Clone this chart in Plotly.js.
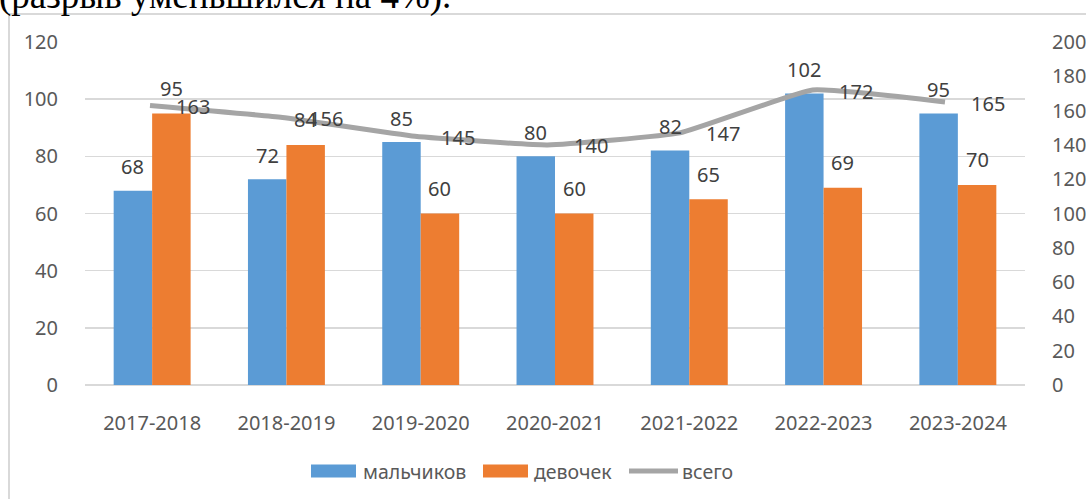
<!DOCTYPE html>
<html>
<head>
<meta charset="utf-8">
<script src="https://cdn.plot.ly/plotly-3.0.1.min.js"></script>
<style>html,body{margin:0;padding:0;background:#fff;}#chart{width:1086px;height:499px;}</style>
</head>
<body>
<div id="chart"></div>
<script>
// ---- data ----
const categories = ["2017-2018", "2018-2019", "2019-2020", "2020-2021", "2021-2022", "2022-2023", "2023-2024"];
const boys = [68, 72, 85, 80, 82, 102, 95];
const girls = [95, 84, 60, 60, 65, 69, 70];
const total = [163, 156, 145, 140, 147, 172, 165];
const seriesNames = ["мальчиков", "девочек", "всего"];
const leftTicks = [0, 20, 40, 60, 80, 100, 120];
const rightTicks = [0, 20, 40, 60, 80, 100, 120, 140, 160, 180, 200];
const noteText = "(разрыв уменьшился на 4%).";

// ---- styling ----
const FONT = "Noto Sans, Open Sans, sans-serif";
const TICK = "#595959";
const LABEL = "#404040";
const colors = ["#5B9BD5", "#ED7D31", "#A5A5A5"];
const W = 1086, H = 499;
const M = {l: 85, r: 61, t: 42, b: 114};
const PW = W - M.l - M.r, PH = H - M.t - M.b;
const px = x => (x - M.l) / PW;
const py = y => (H - M.b - y) / PH;
const bargap = 0.427;
const off = (1 - bargap) / 4;

const traces = [
  {type: "bar", name: seriesNames[0], x: categories, y: boys, marker: {color: colors[0]}, showlegend: false, hoverinfo: "skip"},
  {type: "bar", name: seriesNames[1], x: categories, y: girls, marker: {color: colors[1]}, showlegend: false, hoverinfo: "skip"},
  {type: "scatter", mode: "lines", name: seriesNames[2], x: categories, y: total, xaxis: "x2", yaxis: "y2",
   line: {color: colors[2], width: 5, shape: "spline", smoothing: 0.35}, showlegend: false, hoverinfo: "skip"}
];

const annotations = [];
categories.forEach((c, i) => {
  annotations.push({xref: "x", yref: "y", x: i - off, y: boys[i], text: String(boys[i]), showarrow: false,
    yanchor: "middle", xanchor: "center", yshift: 24, font: {family: FONT, size: 20, color: LABEL}});
  annotations.push({xref: "x", yref: "y", x: i + off, y: girls[i], text: String(girls[i]), showarrow: false,
    yanchor: "middle", xanchor: "center", yshift: 25, font: {family: FONT, size: 20, color: LABEL}});
  annotations.push({xref: "x2", yref: "y2", x: i, y: total[i], text: String(total[i]), showarrow: false,
    yanchor: "middle", xanchor: "center", xshift: 43, yshift: -1, font: {family: FONT, size: 20, color: LABEL}});
});

// top document text (cropped in the reference)
annotations.push({xref: "paper", yref: "paper", x: px(-3), y: py(19), xanchor: "left", yanchor: "bottom",
  text: noteText, showarrow: false, font: {family: "Liberation Serif, Times New Roman, serif", size: 37, color: "#000"}});

// custom legend
const legendItems = [
  {x0: 311, x1: 356, tx: 361, kind: "rect"},
  {x0: 483, x1: 528, tx: 532, kind: "rect"},
  {x0: 629, x1: 678, tx: 680, kind: "line"}
];
const shapes = [];
const LY = 471;
legendItems.forEach((it, k) => {
  if (it.kind === "rect") {
    shapes.push({type: "rect", xref: "paper", yref: "paper", x0: px(it.x0), x1: px(it.x1), y0: py(LY - 6.5), y1: py(LY + 6.5),
      fillcolor: colors[k], line: {width: 0}});
  } else {
    shapes.push({type: "line", xref: "paper", yref: "paper", x0: px(it.x0), x1: px(it.x1), y0: py(LY), y1: py(LY),
      line: {color: colors[k], width: 5}});
  }
  annotations.push({xref: "paper", yref: "paper", x: px(it.tx), y: py(LY), xanchor: "left", yanchor: "middle",
    text: seriesNames[k], showarrow: false, font: {family: FONT, size: 19.5, color: TICK}});
});

// chart border (top and left edges visible)
shapes.push({type: "line", xref: "paper", yref: "paper", x0: px(9), x1: px(1090), y0: py(14), y1: py(14), line: {color: "#D9D9D9", width: 2}});
shapes.push({type: "line", xref: "paper", yref: "paper", x0: px(9), x1: px(9), y0: py(14), y1: py(505), line: {color: "#D9D9D9", width: 2}});

const layout = {
  width: W, height: H, margin: M,
  paper_bgcolor: "#fff", plot_bgcolor: "#fff",
  barmode: "group", bargap: bargap, bargroupgap: 0,
  showlegend: false,
  font: {family: FONT, color: TICK},
  xaxis: {type: "category", range: [-0.5, 6.5], showgrid: false, zeroline: false, showline: false,
    ticks: "outside", ticklen: 20, tickcolor: "rgba(0,0,0,0)", tickfont: {family: FONT, size: 20, color: TICK}},
  xaxis2: {type: "category", overlaying: "x", range: [-0.4906, 6.6038], visible: false},
  yaxis: {range: [0, 120], tickvals: leftTicks, showgrid: true, gridcolor: "#D9D9D9", gridwidth: 1.5,
    zeroline: true, zerolinecolor: "#D9D9D9", zerolinewidth: 1.5, showline: false,
    ticks: "outside", ticklen: 22, tickcolor: "rgba(0,0,0,0)", tickfont: {family: FONT, size: 20, color: TICK}},
  yaxis2: {range: [0, 200], tickvals: rightTicks, overlaying: "y", side: "right", showgrid: false, zeroline: false, showline: false,
    ticks: "outside", ticklen: 22, tickcolor: "rgba(0,0,0,0)", tickfont: {family: FONT, size: 20, color: TICK}},
  annotations: annotations,
  shapes: shapes
};

Plotly.newPlot("chart", traces, layout, {displayModeBar: false, staticPlot: true});
</script>
</body>
</html>
